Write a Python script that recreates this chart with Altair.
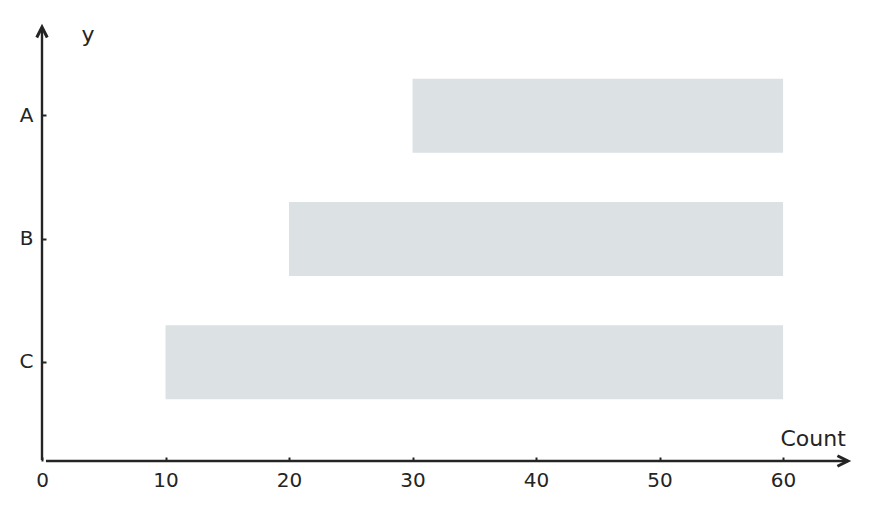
import altair as alt
import pandas as pd

categories = ["A", "B", "C"]
starts = [30, 20, 10]
ends = [60, 60, 60]
x_ticks = [0, 10, 20, 30, 40, 50, 60]

df = pd.DataFrame({"y": categories, "start": starts, "end": ends})

W, H = 809, 444
AX = "#242424"
FONT = "DejaVu Sans"
XMAX = 65.5
XTIP = 65.25

xscale = alt.Scale(domain=[0, XMAX], nice=False, zero=False)

bars = alt.Chart(df).mark_bar(color="#dce1e4").encode(
    x=alt.X("start:Q", scale=xscale,
            axis=alt.Axis(values=x_ticks, domain=False, grid=False, offset=-4,
                          tickSize=4, tickWidth=2, tickColor=AX,
                          labelFlush=False, labelOverlap=False,
                          labelPadding=9, labelFontSize=20, labelFont=FONT,
                          labelColor=AX, title="Count", titleFont=FONT,
                          titleFontSize=22, titleFontWeight="normal",
                          titleColor=AX, titleAlign="left",
                          titleBaseline="alphabetic", titleX=738, titleY=-11.5,
                          titleAngle=0)),
    x2="end:Q",
    y=alt.Y("y:N", sort=categories,
            scale=alt.Scale(paddingInner=0.4, paddingOuter=0.5),
            axis=alt.Axis(domain=False, grid=False, offset=-4, tickSize=4,
                          tickWidth=2, tickColor=AX, labelPadding=9,
                          labelFontSize=20, labelFont=FONT, labelColor=AX,
                          title="y", titleFont=FONT, titleFontSize=22,
                          titleFontWeight="normal", titleColor=AX,
                          titleAngle=0, titleAlign="left",
                          titleBaseline="alphabetic", titleX=35, titleY=24.5)),
)

line_df = pd.DataFrame({"x0": [0.32], "x1": [XTIP]})
xline = alt.Chart(line_df).mark_rule(color=AX, strokeWidth=2.4).encode(
    x=alt.X("x0:Q", scale=xscale), x2="x1:Q", y=alt.value(H)
)
yline = alt.Chart(line_df).mark_rule(color=AX, strokeWidth=2.4).encode(
    x=alt.value(0), y=alt.value(11), y2=alt.value(H - 1)
)

chevron = "M-1,-0.5L0,0L-1,0.5"
tip_df = pd.DataFrame({"x": [XTIP]})
xarrow = alt.Chart(tip_df).mark_point(
    shape=chevron, filled=False, color=AX, strokeWidth=3, size=440, opacity=1
).encode(x=alt.X("x:Q", scale=xscale), y=alt.value(H))
yarrow = alt.Chart(tip_df).mark_point(
    shape=chevron, filled=False, color=AX, strokeWidth=3, size=440, opacity=1,
    angle=270
).encode(x=alt.value(0), y=alt.value(10))

chart = alt.layer(bars, xline, yline, xarrow, yarrow).properties(
    width=W, height=H,
    padding={"left": 34, "top": 9, "right": 10, "bottom": 40},
    autosize=alt.AutoSizeParams(type="none"),
).configure_view(stroke=None)

chart.save("out.html", embed_options={"renderer": "svg", "actions": False})
